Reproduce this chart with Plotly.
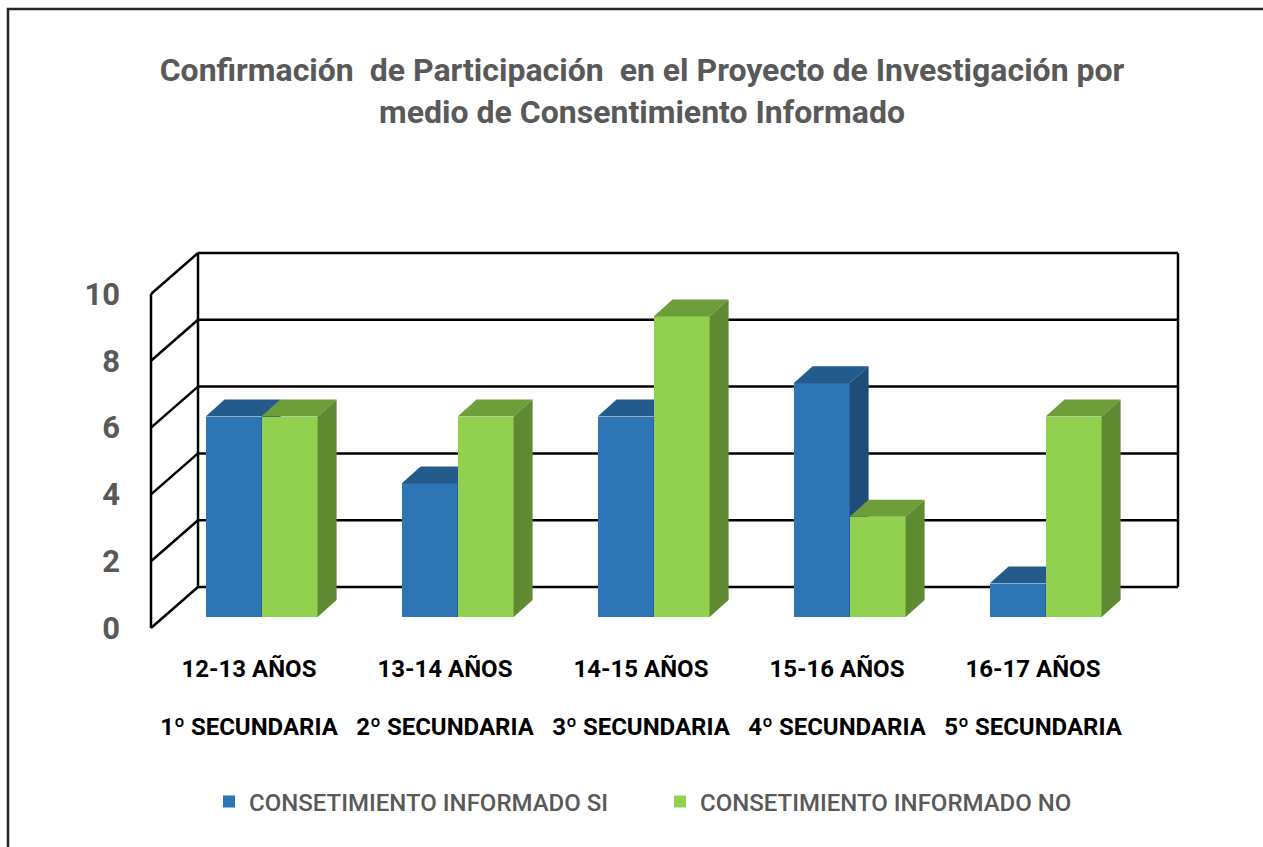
import plotly.graph_objects as go

# ---------------- data ----------------
categories = ["12-13 AÑOS", "13-14 AÑOS", "14-15 AÑOS", "15-16 AÑOS", "16-17 AÑOS"]
grades = ["1º SECUNDARIA", "2º SECUNDARIA", "3º SECUNDARIA", "4º SECUNDARIA", "5º SECUNDARIA"]
si_values = [6, 4, 6, 7, 1]
no_values = [6, 6, 9, 3, 6]
series_names = ["CONSETIMIENTO INFORMADO SI", "CONSETIMIENTO INFORMADO NO"]
y_ticks = [0, 2, 4, 6, 8, 10]
title_text = ("Confirmación  de Participación  en el Proyecto de Investigación por"
              "<br>medio de Consentimiento Informado")

# ---------------- style / geometry ----------------
W, H = 1263, 847
L, R, T, B = 141, 1188, 240, 640          # plot area in px
PX_X = 196.0                               # px per category
PX_Y = 33.4                                # px per value unit
FRONT_LEFT_PX = 151                        # px of x=-0.5
FRONT_ZERO_PX = 628                        # px of y=0
x0r = -0.5 - (FRONT_LEFT_PX - L) / PX_X
x1r = x0r + (R - L) / PX_X
y0r = -(B - FRONT_ZERO_PX) / PX_Y
y1r = y0r + (B - T) / PX_Y

WALL_DX, WALL_DY = 47 / PX_X, 41 / PX_Y
BAR_W = 56 / PX_X
BAR_OFF = 12.6 / PX_X
BAR_BASE = 11 / PX_Y
DEP_DX, DEP_DY = 19 / PX_X, 17 / PX_Y

FONT = "Roboto, Liberation Sans, sans-serif"
GRAY = "#595959"

colors = {
    0: dict(front="#2E75B6", top="#245A8C", side="#1F4D7A"),
    1: dict(front="#92D050", top="#6E9E3A", side="#5F8A31"),
}

fig = go.Figure()

n = len(categories)
x_lo, x_hi = -0.5, n - 0.5
vmax = y_ticks[-1]

for s, vals in enumerate([si_values, no_values]):
    xa = "x" if s == 0 else "x2"
    ya = "y" if s == 0 else "y2"
    c = colors[s]
    lefts = [i + BAR_OFF - BAR_W + s * BAR_W for i in range(n)]
    fig.add_trace(go.Bar(
        x=[lf + BAR_W / 2 for lf in lefts], y=vals, base=BAR_BASE, width=BAR_W,
        marker=dict(color=c["front"], line=dict(width=0)),
        name=series_names[s], xaxis=xa, yaxis=ya, hoverinfo="skip",
    ))
    tx, ty, sx, sy = [], [], [], []
    for lf, v in zip(lefts, vals):
        rt = lf + BAR_W
        top = BAR_BASE + v
        tx += [lf, rt, rt + DEP_DX, lf + DEP_DX, lf, None]
        ty += [top, top, top + DEP_DY, top + DEP_DY, top, None]
        sx += [rt, rt + DEP_DX, rt + DEP_DX, rt, rt, None]
        sy += [BAR_BASE, BAR_BASE + DEP_DY, top + DEP_DY, top, BAR_BASE, None]
    for px_, py_, col in [(tx, ty, c["top"]), (sx, sy, c["side"])]:
        fig.add_trace(go.Scatter(
            x=px_, y=py_, mode="none", fill="toself", fillcolor=col,
            showlegend=False, hoverinfo="skip", xaxis=xa, yaxis=ya,
        ))

# back wall, floor diagonals and front axis line
shapes = []
line_style = dict(color="black", width=2.5)
for v in y_ticks:
    shapes.append(dict(type="line", xref="x", yref="y", layer="below",
                       x0=x_lo + WALL_DX, x1=x_hi + WALL_DX,
                       y0=v + WALL_DY, y1=v + WALL_DY, line=line_style))
    shapes.append(dict(type="line", xref="x", yref="y", layer="below",
                       x0=x_lo, x1=x_lo + WALL_DX, y0=v, y1=v + WALL_DY,
                       line=line_style))
for xx in [x_lo + WALL_DX, x_hi + WALL_DX]:
    shapes.append(dict(type="line", xref="x", yref="y", layer="below",
                       x0=xx, x1=xx, y0=WALL_DY, y1=vmax + WALL_DY, line=line_style))
shapes.append(dict(type="line", xref="x", yref="y", layer="below",
                   x0=x_lo, x1=x_lo, y0=0, y1=vmax, line=line_style))
# chart border
shapes.append(dict(type="rect", xref="paper", yref="paper",
                   x0=(8 - L) / (R - L), x1=(1290 - L) / (R - L),
                   y0=(B - 870) / (B - T), y1=(B - 9) / (B - T),
                   line=dict(color="#262626", width=2.5)))

axis_common = dict(showgrid=False, zeroline=False, showline=False, ticks="",
                   automargin=False, fixedrange=True)
xfont = dict(family=FONT, size=24, color="black", weight="bold")
fig.update_layout(
    width=W, height=H,
    margin=dict(l=L, r=W - R, t=T, b=H - B, pad=0, autoexpand=False),
    paper_bgcolor="white", plot_bgcolor="rgba(0,0,0,0)",
    title=dict(text=title_text, x=642 / W, xanchor="center", xref="container",
               y=1 - 81 / H, yanchor="top", yref="container",
               font=dict(family=FONT, size=32, color=GRAY, weight="bold")),
    xaxis=dict(range=[x0r, x1r], tickvals=list(range(n)), ticktext=categories,
               tickfont=xfont, tickangle=0, ticklabelstandoff=12, **axis_common),
    xaxis2=dict(range=[x0r, x1r], overlaying="x", anchor="y2", side="bottom",
                tickvals=list(range(n)), ticktext=grades, tickfont=xfont,
                tickangle=0, ticklabelstandoff=70, **axis_common),
    yaxis=dict(range=[y0r, y1r], tickvals=y_ticks, ticktext=[str(v) for v in y_ticks],
               tickfont=dict(family=FONT, size=31, color=GRAY, weight="bold"),
               ticklabelstandoff=20, **axis_common),
    yaxis2=dict(range=[y0r, y1r], overlaying="y", anchor="x2", showticklabels=False,
                **axis_common),
    shapes=shapes,
    showlegend=True,
    legend=dict(orientation="h", x=(209 - L) / (R - L), xanchor="left",
                y=(B - 802) / (B - T), yanchor="middle",
                entrywidth=406, entrywidthmode="pixels",
                font=dict(family=FONT, size=24, color=GRAY, weight=500),
                bgcolor="rgba(0,0,0,0)"),
    bargap=0,
)

fig.write_html("out.html", config={"displayModeBar": False},
               post_script="document.body.style.margin='0';document.body.style.overflow='hidden';")
